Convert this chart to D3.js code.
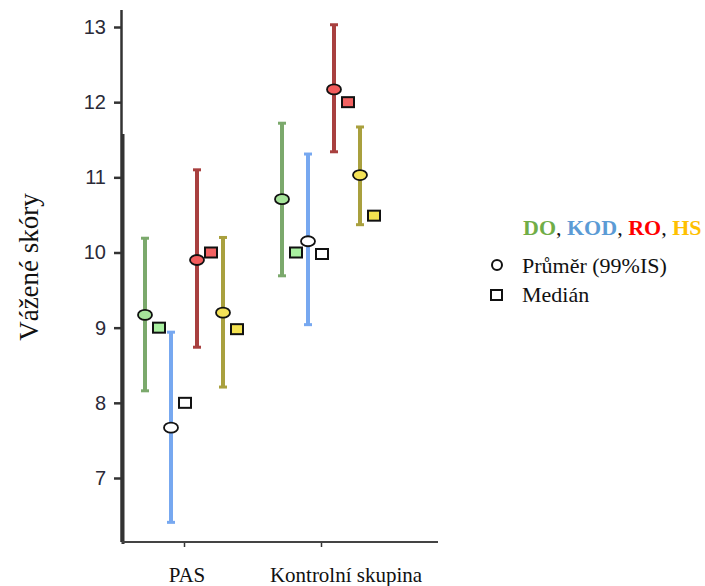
<!DOCTYPE html>
<html>
<head>
<meta charset="utf-8">
<script src="https://cdn.jsdelivr.net/npm/d3@7"></script>
<style>
  body { margin: 0; background: #fff; }
  .tick text { font-family: "Liberation Sans", Arial, sans-serif; }
</style>
</head>
<body>
<div class="chart-container"></div>
<script>
// Data
const groups = ['PAS', 'Kontrolní skupina'];
const series = ['DO', 'KOD', 'RO', 'HS'];
const yTicks = [7, 8, 9, 10, 11, 12, 13];

// mean, CI low, CI high, median per group (PAS, Kontrolní skupina)
const meanDO = [9.17, 10.71];
const lowDO = [8.16, 9.69];
const highDO = [10.19, 11.72];
const medianDO = [9.0, 10.0];

const meanKOD = [7.67, 10.15];
const lowKOD = [6.41, 9.04];
const highKOD = [8.94, 11.31];
const medianKOD = [8.0, 9.98];

const meanRO = [9.9, 12.17];
const lowRO = [8.74, 11.34];
const highRO = [11.1, 13.03];
const medianRO = [10.0, 12.0];

const meanHS = [9.2, 11.03];
const lowHS = [8.21, 10.37];
const highHS = [10.2, 11.67];
const medianHS = [8.98, 10.49];

const barColors = { DO: '#7ba96c', KOD: '#77a8f0', RO: '#a8403f', HS: '#a9a03e' };
const meanFill = { DO: '#a6e49a', KOD: '#ffffff', RO: '#f25c5c', HS: '#f4e258' };
const medianFill = { DO: '#a9f0a0', KOD: '#ffffff', RO: '#f26262', HS: '#f4e250' };
const legendColors = { DO: '#70ad47', KOD: '#5b9bd5', RO: '#ff0000', HS: '#ffc000' };

const tableBySeries = {
    DO: [meanDO, lowDO, highDO, medianDO],
    KOD: [meanKOD, lowKOD, highKOD, medianKOD],
    RO: [meanRO, lowRO, highRO, medianRO],
    HS: [meanHS, lowHS, highHS, medianHS]
};

const points = [];
groups.forEach((g, gi) => {
    series.forEach(s => {
        const t = tableBySeries[s];
        points.push({ group: g, series: s, mean: t[0][gi], low: t[1][gi], high: t[2][gi], median: t[3][gi] });
    });
});

const svgWidth = 705;
const svgHeight = 586;

const svg = d3.select('.chart-container')
    .append('svg')
    .attr('width', svgWidth)
    .attr('height', svgHeight)
    .style('font-family', '"Liberation Serif", "Times New Roman", serif');

// Scales
const yScale = d3.scaleLinear().domain([7, 13]).range([478, 27]);
const xScale = d3.scalePoint().domain(groups).range([184, 321]);
const offset = d3.scalePoint().domain(series).range([-39, 39]);

const axisX = 122;
const axisY = 542;

// Y axis
const yAxis = d3.axisLeft(yScale)
    .tickValues(yTicks)
    .tickFormat(d3.format('d'))
    .tickSizeInner(8)
    .tickSizeOuter(0)
    .tickPadding(8);

const yAxisDraw = svg.append('g')
    .attr('class', 'y axis')
    .attr('transform', 'translate(' + axisX + ',0)');
yAxis(yAxisDraw);
yAxisDraw.select('.domain').remove();
yAxisDraw.selectAll('.tick line').attr('stroke', '#333').attr('stroke-width', 2.5);
yAxisDraw.selectAll('.tick text')
    .style('font-size', '20px')
    .attr('fill', '#2a2a38');

svg.append('line')
    .attr('x1', axisX - 0.5).attr('x2', axisX - 0.5)
    .attr('y1', 10).attr('y2', axisY)
    .attr('stroke', '#333').attr('stroke-width', 2.5);
svg.append('line')
    .attr('x1', axisX + 1).attr('x2', axisX + 1)
    .attr('y1', 134).attr('y2', axisY + 2)
    .attr('stroke', '#333').attr('stroke-width', 3);

// X axis
const xAxis = d3.axisBottom(xScale).tickSizeInner(5).tickSizeOuter(0).tickFormat('');
const xAxisDraw = svg.append('g')
    .attr('class', 'x axis')
    .attr('transform', 'translate(0,' + axisY + ')');
xAxis(xAxisDraw);
xAxisDraw.select('.domain').remove();
xAxisDraw.selectAll('.tick line').attr('stroke', '#333').attr('stroke-width', 1.5);
xAxisDraw.append('line')
    .attr('x1', axisX).attr('x2', 438)
    .attr('stroke', '#444').attr('stroke-width', 2);

const labelShift = [3, 25];
svg.selectAll('.group-label')
    .data(groups)
    .enter()
    .append('text')
    .attr('class', 'group-label')
    .attr('x', (d, i) => xScale(d) + labelShift[i])
    .attr('y', 582)
    .attr('text-anchor', 'middle')
    .style('font-size', '21px')
    .attr('fill', '#111')
    .text(d => d);

// Y label
svg.append('text')
    .attr('transform', 'translate(38,267) rotate(-90)')
    .attr('text-anchor', 'middle')
    .style('font-size', '27px')
    .attr('fill', '#111')
    .text('Vážené skóry');

// Error bars
const px = d => xScale(d.group) + offset(d.series);

const bars = svg.selectAll('.err')
    .data(points)
    .enter()
    .append('g')
    .attr('class', 'err');

bars.append('line')
    .attr('x1', px).attr('x2', px)
    .attr('y1', d => yScale(d.high)).attr('y2', d => yScale(d.low))
    .attr('stroke', d => barColors[d.series])
    .attr('stroke-width', 4);

bars.selectAll('.cap')
    .data(d => [{ d: d, v: d.high }, { d: d, v: d.low }])
    .enter()
    .append('line')
    .attr('x1', c => px(c.d) - 4).attr('x2', c => px(c.d) + 4)
    .attr('y1', c => yScale(c.v)).attr('y2', c => yScale(c.v))
    .attr('stroke', c => barColors[c.d.series])
    .attr('stroke-width', 3);

// Mean markers
bars.append('ellipse')
    .attr('cx', px)
    .attr('cy', d => yScale(d.mean))
    .attr('rx', 7)
    .attr('ry', 5)
    .attr('fill', d => meanFill[d.series])
    .attr('stroke', '#111')
    .attr('stroke-width', 1.8);

// Median markers
bars.append('rect')
    .attr('x', d => px(d) + 14 - 6)
    .attr('y', d => yScale(d.median) - 5)
    .attr('width', 12)
    .attr('height', 10)
    .attr('fill', d => medianFill[d.series])
    .attr('stroke', '#111')
    .attr('stroke-width', 2);

// Legend
const legendText = svg.append('text')
    .attr('x', 523)
    .attr('y', 235)
    .style('font-size', '22px')
    .style('font-weight', 'bold');
series.forEach((s, i) => {
    legendText.append('tspan').attr('fill', legendColors[s]).text(s);
    if (i < series.length - 1) {
        legendText.append('tspan').attr('fill', '#111').style('font-weight', 'normal').text(', ');
    }
});

svg.append('circle')
    .attr('cx', 497).attr('cy', 265).attr('r', 5)
    .attr('fill', '#fff').attr('stroke', '#111').attr('stroke-width', 2);
svg.append('text')
    .attr('x', 522).attr('y', 273)
    .style('font-size', '22px').attr('fill', '#111')
    .text('Průměr (99%IS)');

svg.append('rect')
    .attr('x', 491).attr('y', 290).attr('width', 11).attr('height', 10)
    .attr('fill', '#fff').attr('stroke', '#111').attr('stroke-width', 2);
svg.append('text')
    .attr('x', 522).attr('y', 302)
    .style('font-size', '22px').attr('fill', '#111')
    .text('Medián');
</script>
</body>
</html>
